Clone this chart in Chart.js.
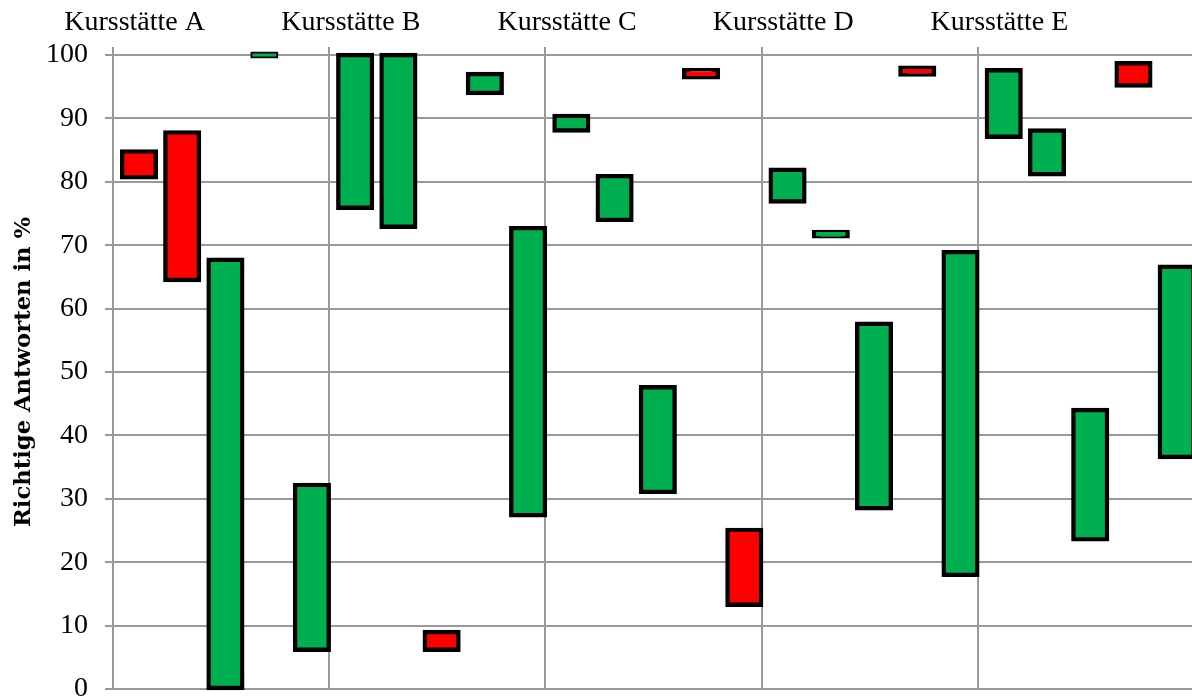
<!DOCTYPE html>
<html>
<head>
<meta charset="utf-8">
<script src="https://cdn.jsdelivr.net/npm/chart.js@4/dist/chart.umd.min.js"></script>
<style>
  html, body { margin: 0; padding: 0; background: #fff; overflow: hidden; }
  canvas { display: block; }
</style>
</head>
<body>
<canvas id="chart" width="1194" height="698"></canvas>
<script>
// Course sites, five ranges each
const sites = ['Kursstätte A', 'Kursstätte B', 'Kursstätte C', 'Kursstätte D', 'Kursstätte E'];
const rangesPerSite = 5;

// Lower and upper end of every range (percent of correct answers)
const lowValues = [
  80.7, 64.5, 0.0, 99.6, 6.2,
  75.9, 72.9, 6.2, 94.0, 27.4,
  88.1, 74.0, 31.1, 96.5, 13.3,
  76.9, 71.4, 28.5, 96.9, 18.0,
  87.1, 81.2, 23.6, 95.2, 36.6
];
const highValues = [
  84.8, 87.8, 67.7, 100.4, 32.2,
  100.0, 100.0, 9.0, 97.0, 72.7,
  90.4, 80.9, 47.6, 97.6, 25.1,
  81.9, 72.1, 57.6, 98.0, 68.9,
  97.6, 88.1, 44.0, 98.7, 66.6
];
// 'minus' ranges are drawn red, 'plus' ranges green
const outcome = [
  'minus', 'minus', 'plus', 'plus', 'plus',
  'plus', 'plus', 'minus', 'plus', 'plus',
  'plus', 'plus', 'plus', 'minus', 'minus',
  'plus', 'plus', 'plus', 'minus', 'plus',
  'plus', 'plus', 'plus', 'minus', 'plus'
];
// the one short range that sits on the 100 % line
const narrowRange = 3;

const yTicks = { min: 0, max: 100, step: 10 };

const RED = '#ff0000';
const GREEN = '#00b050';
const GRID = '#999999';
const SERIF = "'Liberation Serif', serif";

// Axis labels: site name on the first slot of each group
const slotLabels = [];
sites.forEach(s => {
  for (let k = 0; k < rangesPerSite; k++) slotLabels.push(k === 0 ? s : '');
});
const slotCount = slotLabels.length;

const mainData = [];
const mainColors = [];
const narrowData = new Array(slotCount).fill(null);
let narrowColor = GREEN;
lowValues.forEach((lo, i) => {
  const col = outcome[i] === 'minus' ? RED : GREEN;
  if (i === narrowRange) {
    narrowData[i] = [lo, highValues[i]];
    narrowColor = col;
  } else {
    mainData.push({ x: i, y: [lo, highValues[i]] });
    mainColors.push(col);
  }
});

// The outline is centred on the range ends: half of it lies outside the bar
new Chart(document.getElementById('chart'), {
  type: 'bar',
  data: {
    labels: slotLabels,
    datasets: [
      {
        data: mainData,
        xAxisID: 'xb',
        backgroundColor: mainColors,
        borderColor: '#000',
        borderWidth: 4.4,
        inflateAmount: 2.2,
        borderSkipped: false,
        barThickness: 33.7,
        grouped: false,
        clip: false
      },
      {
        data: narrowData,
        xAxisID: 'x',
        backgroundColor: narrowColor,
        borderColor: '#000',
        borderWidth: 2,
        inflateAmount: 1,
        borderSkipped: false,
        barThickness: 26,
        grouped: false,
        clip: false
      }
    ]
  },
  options: {
    responsive: false,
    animation: false,
    layout: { padding: { left: 0, right: 0, top: 0, bottom: 9 } },
    plugins: { legend: { display: false }, tooltip: { enabled: false } },
    scales: {
      x: {
        type: 'category',
        position: 'top',
        offset: true,
        border: { display: false },
        grid: {
          offset: true,
          lineWidth: 2,
          tickLength: 8,
          color: ctx => (ctx.index % rangesPerSite === 0 ? GRID : 'rgba(0,0,0,0)')
        },
        ticks: {
          autoSkip: false,
          maxRotation: 0,
          minRotation: 0,
          padding: 7.5,
          color: '#000',
          font: { family: SERIF, size: 28 }
        },
        afterFit: s => { s.height = 55; s.paddingLeft = 0; s.paddingRight = 0; }
      },
      xb: {
        type: 'linear',
        display: false,
        offset: false,
        min: -0.6,
        max: slotCount - 0.6,
        grid: { offset: false }
      },
      y: {
        position: 'left',
        min: yTicks.min,
        max: yTicks.max,
        border: { display: true, color: GRID, width: 2 },
        grid: { color: GRID, lineWidth: 2, tickLength: 8 },
        ticks: {
          stepSize: yTicks.step,
          padding: 17,
          color: '#000',
          font: { family: SERIF, size: 28 }
        },
        title: {
          display: true,
          text: 'Richtige Antworten in %',
          color: '#000',
          font: { family: "'DejaVu Serif', serif", weight: 'bold', size: 22.7 },
          padding: { top: 10, bottom: 0 }
        },
        afterFit: s => { s.width = 113; s.paddingTop = 0; s.paddingBottom = 0; }
      }
    }
  }
});
</script>
</body>
</html>
